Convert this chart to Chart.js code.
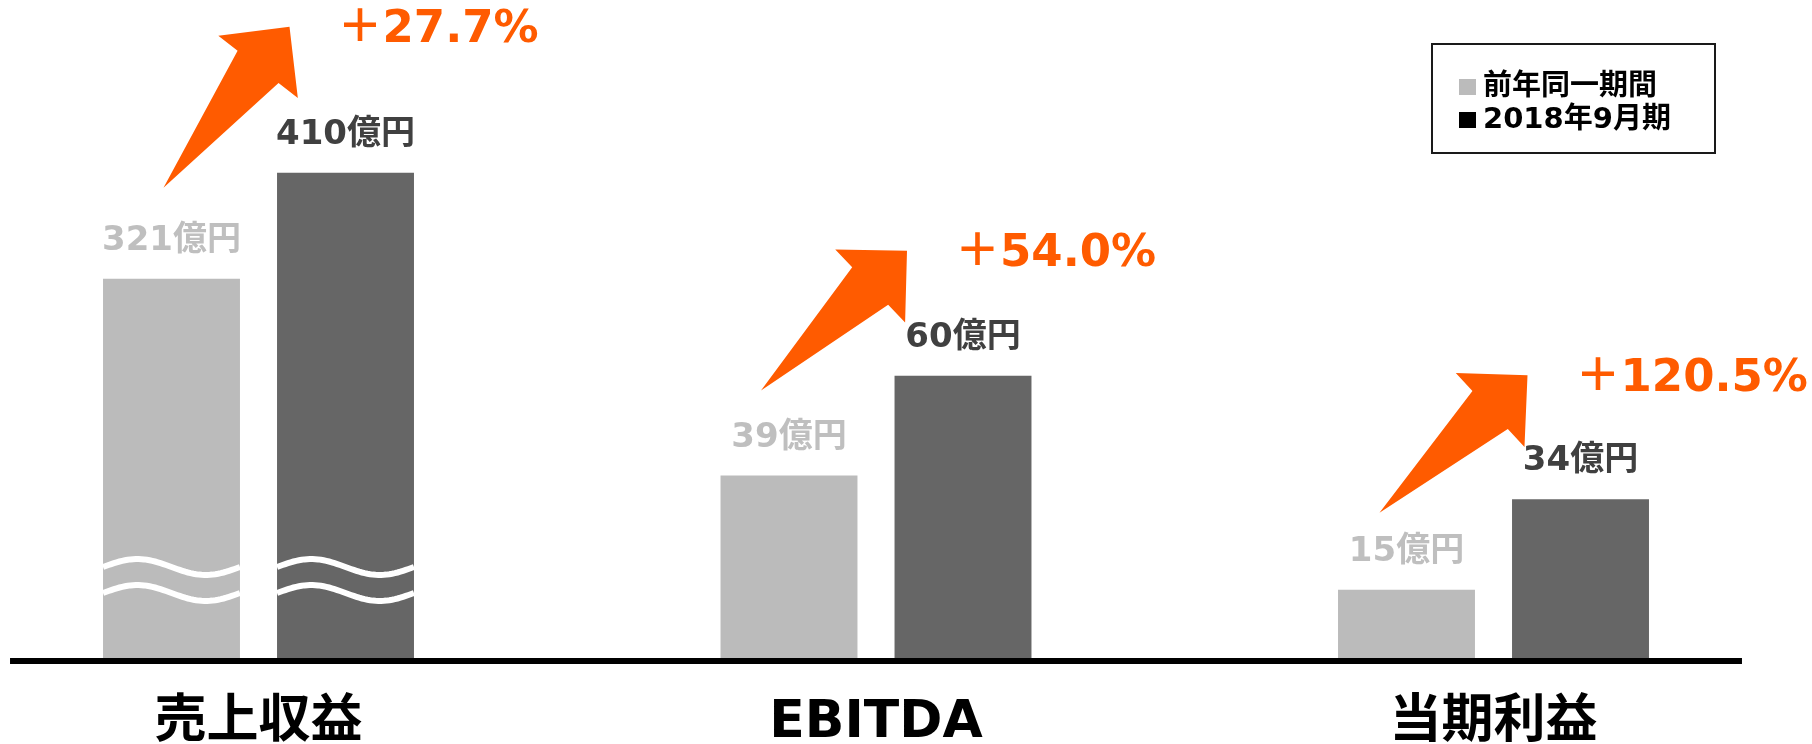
<!DOCTYPE html>
<html lang="ja">
<head>
<meta charset="utf-8">
<title>業績ハイライト</title>
<script src="https://cdn.jsdelivr.net/npm/chart.js@4.4.1/dist/chart.umd.min.js"></script>
<style>
  html, body { margin: 0; padding: 0; background: #fff; overflow: hidden; }
  #wrap { position: relative; width: 1812px; height: 744px; }
</style>
</head>
<body>
<div id="wrap"><canvas id="resultsChart"></canvas></div>
<script>
// Data (億円)
const categories = ["売上収益", "EBITDA", "当期利益"];
const seriesNames = ["前年同一期間", "2018年9月期"];
const prevValues = [321, 39, 15];
const currValues = [410, 60, 34];
const growthLabels = ["＋27.7%", "＋54.0%", "＋120.5%"];
const unit = "億円";

// 売上収益 is drawn on its own (broken) scale
const brokenIndex = 0;

// Styles
const GRAY = "#BBBBBB";
const DARK = "#666666";
const ORANGE = "#FF5B00";
const FONT = '"DejaVu Sans", "Noto Sans CJK JP", sans-serif';
const labelColors = ["#BFBFBF", "#404040"];
const legendSwatches = [GRAY, "#000000"];
// arrow anchors relative to bar top centres
const arrowTail = [[-8, -91], [-28, -85], [-27, -77]];
const arrowTip = [[-56, -146], [-56, -125], [-53, -124]];

const onMain = (arr) => arr.map((v, i) => (i === brokenIndex ? null : v));
const onBroken = (arr) => arr.map((v, i) => (i === brokenIndex ? v : null));

const datasets = [
  { label: seriesNames[0], data: onBroken(prevValues), yAxisID: "yBig", backgroundColor: GRAY, series: 0, broken: true },
  { label: seriesNames[1], data: onBroken(currValues), yAxisID: "yBig", backgroundColor: DARK, series: 1, broken: true },
  { label: seriesNames[0], data: onMain(prevValues), yAxisID: "y", backgroundColor: GRAY, series: 0 },
  { label: seriesNames[1], data: onMain(currValues), yAxisID: "y", backgroundColor: DARK, series: 1 },
];

// find the bar element for a series at a category
function barFor(chart, series, i) {
  for (let d = 0; d < chart.data.datasets.length; d++) {
    const ds = chart.data.datasets[d];
    if (ds.series === series && ds.data[i] != null) {
      return { el: chart.getDatasetMeta(d).data[i], value: ds.data[i] };
    }
  }
  return null;
}

// Wavy break marks on the 売上収益 bars
const breakMarks = {
  id: "breakMarks",
  afterDatasetsDraw(chart) {
    const ctx = chart.ctx;
    ctx.save();
    ctx.strokeStyle = "#fff";
    ctx.lineWidth = 6;
    chart.data.datasets.forEach((ds, d) => {
      if (!ds.broken) return;
      chart.getDatasetMeta(d).data.forEach((bar, i) => {
        if (ds.data[i] == null) return;
        const left = bar.x - bar.width / 2;
        const w = bar.width;
        [94, 68].forEach((lift) => {
          const c = bar.base - lift;
          ctx.beginPath();
          for (let t = 0; t <= 1.0001; t += 0.02) {
            const px = left + t * w;
            const py = c - 8 * Math.sin(2 * Math.PI * t);
            if (t === 0) ctx.moveTo(px, py); else ctx.lineTo(px, py);
          }
          ctx.stroke();
        });
      });
    });
    ctx.restore();
  },
};

// Baseline, value labels, growth arrows
const annotations = {
  id: "annotations",
  afterDatasetsDraw(chart) {
    const ctx = chart.ctx;
    const n = categories.length;
    ctx.save();

    // baseline
    const first = barFor(chart, 0, 0).el;
    const last = barFor(chart, 1, n - 1).el;
    ctx.strokeStyle = "#000";
    ctx.lineWidth = 6;
    ctx.beginPath();
    ctx.moveTo(first.x - first.width / 2 - 93, chart.chartArea.bottom);
    ctx.lineTo(last.x + last.width / 2 + 93, chart.chartArea.bottom);
    ctx.stroke();

    // value labels
    ctx.textAlign = "center";
    ctx.textBaseline = "alphabetic";
    ctx.font = `bold 34px ${FONT}`;
    for (let i = 0; i < n; i++) {
      [0, 1].forEach((s) => {
        const b = barFor(chart, s, i);
        ctx.fillStyle = labelColors[s];
        ctx.fillText(b.value + unit, b.el.x, b.el.y - 29);
      });
    }

    // arrows and growth rates
    for (let i = 0; i < n; i++) {
      const g = barFor(chart, 0, i).el;
      const c = barFor(chart, 1, i).el;
      const T = { x: g.x + arrowTail[i][0], y: g.y + arrowTail[i][1] };
      const P = { x: c.x + arrowTip[i][0], y: c.y + arrowTip[i][1] };
      const dx = P.x - T.x, dy = P.y - T.y;
      const len = Math.hypot(dx, dy);
      const u = { x: dx / len, y: dy / len };
      const nv = { x: -u.y, y: u.x };
      const pt = (a, b) => ({ x: P.x - a * u.x + b * nv.x, y: P.y - a * u.y + b * nv.y });
      const pts = [T, pt(51, -26), pt(51, -50.5), P, pt(51, 50.5), pt(51, 26)];
      ctx.fillStyle = ORANGE;
      ctx.beginPath();
      pts.forEach((p, k) => (k === 0 ? ctx.moveTo(p.x, p.y) : ctx.lineTo(p.x, p.y)));
      ctx.closePath();
      ctx.fill();

      ctx.font = `bold 45px ${FONT}`;
      ctx.textAlign = "left";
      ctx.textBaseline = "middle";
      ctx.fillText(growthLabels[i], P.x + 48, P.y + 4);
      ctx.textAlign = "center";
      ctx.textBaseline = "alphabetic";
      ctx.font = `bold 34px ${FONT}`;
    }
    ctx.restore();
  },
};

// Boxed legend, top right
const boxLegend = {
  id: "boxLegend",
  afterDraw(chart) {
    const ctx = chart.ctx;
    const box = { x: 1432, y: 44, w: 283, h: 109 };
    ctx.save();
    ctx.strokeStyle = "#1a1a1a";
    ctx.lineWidth = 2;
    ctx.strokeRect(box.x, box.y, box.w, box.h);
    ctx.font = `bold 29px ${FONT}`;
    ctx.textBaseline = "middle";
    ctx.textAlign = "left";
    seriesNames.forEach((name, k) => {
      const cy = box.y + 43 + k * 33;
      ctx.fillStyle = legendSwatches[k];
      ctx.fillRect(box.x + 27, cy - 8, 17, 16);
      ctx.fillStyle = "#000";
      ctx.fillText(name, box.x + 51, cy);
    });
    ctx.restore();
  },
};

const ctx = document.getElementById("resultsChart").getContext("2d");
new Chart(ctx, {
  type: "bar",
  data: { labels: categories, datasets: datasets },
  options: {
    responsive: true,
    maintainAspectRatio: false,
    animation: false,
    layout: { padding: { left: 258.5, right: 318.5, top: 0, bottom: 0 } },
    datasets: {
      bar: {
        skipNull: true,
        categoryPercentage: 0.5636,
        barPercentage: 0.787,
        clip: false,
      },
    },
    plugins: {
      legend: { display: false },
      tooltip: { enabled: false },
    },
    scales: {
      x: {
        offset: false,
        grid: { display: false, drawTicks: false },
        border: { display: false },
        ticks: {
          color: "#000",
          padding: 31,
          font: { family: FONT, size: 52, weight: "bold" },
        },
        afterFit: (scale) => { scale.height = 83; },
      },
      y: { display: false, min: 0, max: 139 },
      yBig: { display: false, min: 0, max: 555 },
    },
  },
  plugins: [breakMarks, annotations, boxLegend],
});
</script>
</body>
</html>
